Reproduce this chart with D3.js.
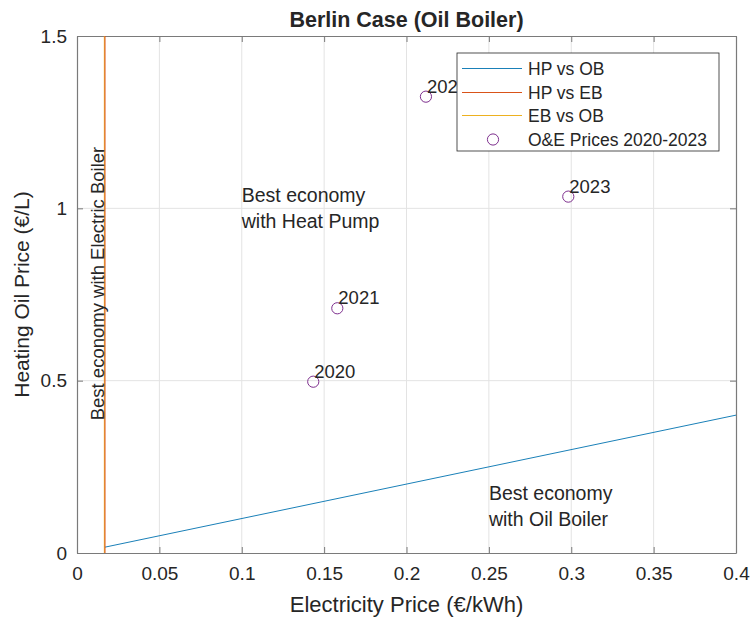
<!DOCTYPE html>
<html>
<head>
<meta charset="utf-8">
<script src="https://cdn.jsdelivr.net/npm/d3@7"></script>
<style>
  body { margin: 0; background: #fff; }
  text { font-family: "Liberation Sans", Arial, sans-serif; fill: #262626; }
</style>
</head>
<body>
<div id="container"></div>
<script>
// ---- data ----
let xTicks = [0, 0.05, 0.1, 0.15, 0.2, 0.25, 0.3, 0.35, 0.4];
let yTicks = [0, 0.5, 1, 1.5];

let hpVsObX = [0.017, 0.4];
let hpVsObY = [0.017, 0.4];
let hpVsEbX = [0.017, 0.017];
let hpVsEbY = [0, 1.5];
let ebVsObX = [0.0166, 0.0166];
let ebVsObY = [0, 1.5];

let years = ["2020", "2021", "2022", "2023"];
let elecPrice = [0.1434, 0.158, 0.2118, 0.2982];
let oilPrice = [0.497, 0.710, 1.324, 1.034];

let seriesNames = ["HP vs OB", "HP vs EB", "EB vs OB", "O&E Prices 2020-2023"];

// ---- layout ----
let w = 753;
let h = 621;
let pLeft = 77, pRight = 736, pTop = 36, pBottom = 553;

let blue = "#1a80b8", orange = "#D95319", yellow = "#EDB120", purple = "#7E2F8E";

let viz = d3.select("#container")
  .append("svg")
    .attr("width", w)
    .attr("height", h);

let xScale = d3.scaleLinear().domain([0, 0.4]).range([pLeft, pRight]);
let yScale = d3.scaleLinear().domain([0, 1.5]).range([pBottom, pTop]);

// grid
let grid = viz.append("g").attr("class", "grid");
grid.selectAll(".vgrid").data(xTicks.slice(1, -1)).enter().append("line")
  .attr("x1", d => xScale(d)).attr("x2", d => xScale(d))
  .attr("y1", pTop).attr("y2", pBottom)
  .attr("stroke", "#e3e3e3").attr("stroke-width", 1);
grid.selectAll(".hgrid").data(yTicks.slice(1, -1)).enter().append("line")
  .attr("x1", pLeft).attr("x2", pRight)
  .attr("y1", d => yScale(d)).attr("y2", d => yScale(d))
  .attr("stroke", "#e3e3e3").attr("stroke-width", 1);

// axes (MATLAB style, ticks inward, box on)
let fmt = d => String(d);
let xAxisGroup = viz.append("g").attr("transform", "translate(0," + pBottom + ")")
  .call(d3.axisBottom(xScale).tickValues(xTicks).tickFormat(fmt).tickSizeInner(-6).tickSizeOuter(0).tickPadding(14));
let xAxisTop = viz.append("g").attr("transform", "translate(0," + pTop + ")")
  .call(d3.axisTop(xScale).tickValues(xTicks).tickFormat("").tickSizeInner(-6).tickSizeOuter(0));
let yAxisGroup = viz.append("g").attr("transform", "translate(" + pLeft + ",0)")
  .call(d3.axisLeft(yScale).tickValues(yTicks).tickFormat(fmt).tickSizeInner(-6).tickSizeOuter(0).tickPadding(10));
let yAxisRight = viz.append("g").attr("transform", "translate(" + pRight + ",0)")
  .call(d3.axisRight(yScale).tickValues(yTicks).tickFormat("").tickSizeInner(-6).tickSizeOuter(0));

[xAxisGroup, xAxisTop, yAxisGroup, yAxisRight].forEach(g => {
  g.select(".domain").attr("stroke", "#7a7a7a").attr("stroke-width", 1.2);
  g.selectAll(".tick line").attr("stroke", "#7a7a7a");
  g.selectAll(".tick text").style("font-size", "19px").attr("fill", "#262626")
    .style("font-family", "'Liberation Sans', Arial, sans-serif");
});

// clip
viz.append("clipPath").attr("id", "plotclip").append("rect")
  .attr("x", pLeft).attr("y", pTop).attr("width", pRight - pLeft).attr("height", pBottom - pTop);

let lineGen = d3.line().x(d => xScale(d[0])).y(d => yScale(d[1]));
let plot = viz.append("g").attr("clip-path", "url(#plotclip)");

plot.append("path").datum(d3.zip(hpVsObX, hpVsObY))
  .attr("d", lineGen).attr("fill", "none").attr("stroke", blue).attr("stroke-width", 1);
plot.append("path").datum(d3.zip(ebVsObX, ebVsObY))
  .attr("d", lineGen).attr("fill", "none").attr("stroke", yellow).attr("stroke-width", 1);
plot.append("path").datum(d3.zip(hpVsEbX, hpVsEbY))
  .attr("d", lineGen).attr("fill", "none").attr("stroke", orange).attr("stroke-width", 1);

// region annotations
function multiLine(x, y, lines, size) {
  let t = viz.append("text").attr("x", xScale(x)).attr("y", yScale(y))
    .style("font-size", size + "px");
  let lh = size * 1.35;
  lines.forEach((l, i) => {
    t.append("tspan").attr("x", xScale(x))
      .attr("dy", i == 0 ? (-(lines.length - 1) * lh / 2 + size * 0.35) : lh)
      .text(l);
  });
}
multiLine(0.1, 1.0, ["Best economy", "with Heat Pump"], 19.5);
multiLine(0.25, 0.135, ["Best economy", "with Oil Boiler"], 19.5);

viz.append("text")
  .attr("transform", "translate(" + xScale(0.0122) + "," + yScale(0.385) + ") rotate(-90)")
  .attr("dy", "0.35em")
  .style("font-size", "18.5px")
  .text("Best economy with Electric Boiler");

// price points
let pts = viz.append("g").selectAll("g").data(years).enter().append("g")
  .attr("transform", (d, i) => "translate(" + xScale(elecPrice[i]) + "," + yScale(oilPrice[i]) + ")");
pts.append("circle").attr("r", 5.6).attr("fill", "none").attr("stroke", purple).attr("stroke-width", 1);
pts.append("text").attr("x", 1).attr("y", -4).style("font-size", "18.5px").text(d => d);

// legend
let lg = viz.append("g");
lg.append("rect").attr("x", 457).attr("y", 53).attr("width", 262).attr("height", 98)
  .attr("fill", "#fff").attr("stroke", "#262626").attr("stroke-width", 0.8);
let legColors = [blue, orange, yellow, purple];
seriesNames.forEach((name, i) => {
  let yy = Math.round(68 + i * 23.5) + 0.5;
  if (i < 3) {
    lg.append("line").attr("x1", 462).attr("x2", 522).attr("y1", yy).attr("y2", yy)
      .attr("stroke", legColors[i]).attr("stroke-width", 1);
  } else {
    lg.append("circle").attr("cx", 493).attr("cy", yy).attr("r", 5.6)
      .attr("fill", "none").attr("stroke", purple).attr("stroke-width", 1);
  }
  lg.append("text").attr("x", 528).attr("y", yy).attr("dy", "0.35em")
    .style("font-size", "17.5px").text(name);
});

// titles
viz.append("text").attr("x", (pLeft + pRight) / 2).attr("y", 27)
  .attr("text-anchor", "middle").style("font-size", "21.5px").style("font-weight", "bold")
  .text("Berlin Case (Oil Boiler)");
viz.append("text").attr("x", (pLeft + pRight) / 2).attr("y", 612)
  .attr("text-anchor", "middle").style("font-size", "22px")
  .text("Electricity Price (€/kWh)");
viz.append("text")
  .attr("transform", "translate(29," + (pTop + pBottom) / 2 + ") rotate(-90)")
  .attr("text-anchor", "middle").style("font-size", "21px")
  .text("Heating Oil Price (€/L)");
</script>
</body>
</html>
